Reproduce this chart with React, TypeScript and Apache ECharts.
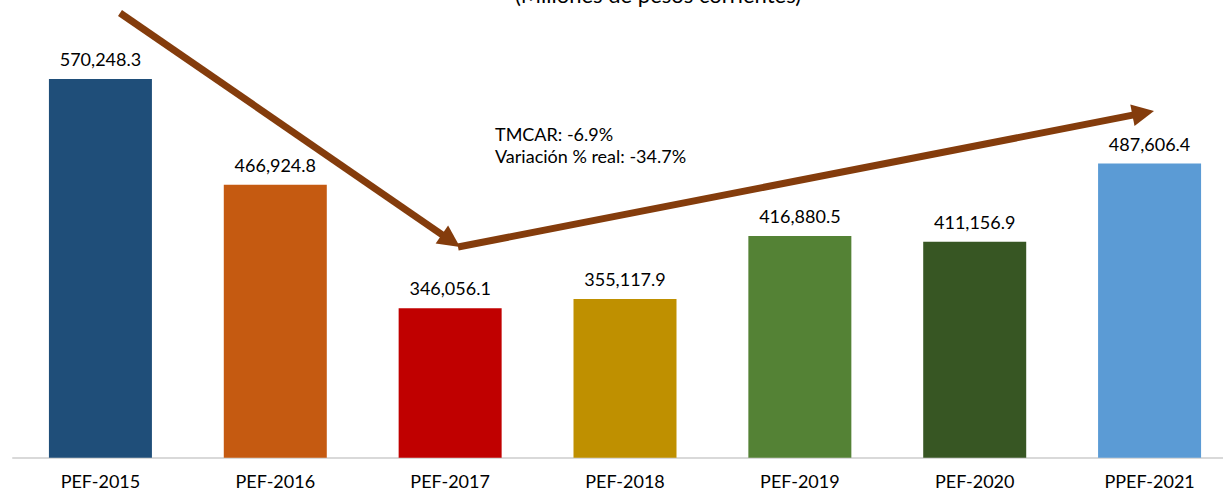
import React, { useEffect, useRef } from "react";
import * as echarts from "echarts";

const categories = ["PEF-2015", "PEF-2016", "PEF-2017", "PEF-2018", "PEF-2019", "PEF-2020", "PPEF-2021"];
const values = [570248.3, 466924.8, 346056.1, 355117.9, 416880.5, 411156.9, 487606.4];
const barColors = ["#1f4e79", "#c55a11", "#c00000", "#bf9000", "#548235", "#375623", "#5b9bd5"];
const titleText = "(Millones de pesos corrientes)";
const noteLines = ["TMCAR: -6.9%", "Variación % real: -34.7%"];

const FONT = "Lato, 'Liberation Sans', sans-serif";
const ARROW = "#843c0c";

function arrowHead(x1: number, y1: number, x2: number, y2: number, len: number, half: number) {
  const dx = x2 - x1;
  const dy = y2 - y1;
  const d = Math.sqrt(dx * dx + dy * dy);
  const ux = dx / d;
  const uy = dy / d;
  const bx = x2 - ux * len;
  const by = y2 - uy * len;
  return [
    [x2, y2],
    [bx - uy * half, by + ux * half],
    [bx + uy * half, by - ux * half],
  ];
}

export default function App() {
  const ref = useRef<HTMLDivElement>(null);
  useEffect(() => {
    if (!ref.current) return;
    const chart = echarts.init(ref.current, null, { renderer: "svg" });
    const a1 = { x1: 120, y1: 13, x2: 460, y2: 247 };
    const a2 = { x1: 458, y1: 247, x2: 1154, y2: 111 };
    const shaft = (a: any) => {
      const dx = a.x2 - a.x1, dy = a.y2 - a.y1;
      const d = Math.sqrt(dx * dx + dy * dy);
      return { x2: a.x2 - (dx / d) * 14, y2: a.y2 - (dy / d) * 14 };
    };
    const s1 = shaft(a1);
    const s2 = shaft(a2);
    chart.setOption({
      animation: false,
      grid: { left: 13, right: 0, top: 48.6, bottom: 33.3, containLabel: false },
      xAxis: {
        type: "category",
        data: categories,
        axisLine: { show: true, lineStyle: { color: "#d9d9d9", width: 2 } },
        axisTick: { show: false },
        axisLabel: { color: "#000", fontFamily: FONT, fontSize: 18, margin: 14 },
      },
      yAxis: {
        type: "value",
        min: 200000,
        max: 600000,
        show: false,
        splitLine: { show: false },
      },
      series: [
        {
          type: "bar",
          barWidth: 103,
          data: values.map((v, i) => ({ value: v, itemStyle: { color: barColors[i] } })),
          label: {
            show: true,
            position: "top",
            distance: 11,
            color: "#000",
            fontFamily: FONT,
            fontSize: 18,
            formatter: (p: any) =>
              Number(p.value).toLocaleString("en-US", { minimumFractionDigits: 1, maximumFractionDigits: 1 }),
          },
        },
      ],
      graphic: [
        {
          type: "text",
          x: 658,
          y: 5,
          style: {
            text: titleText,
            fontFamily: FONT,
            fontSize: 22,
            fill: "#000",
            textAlign: "center",
            textVerticalAlign: "bottom",
          },
        },
        {
          type: "text",
          x: 495,
          y: 123,
          style: {
            text: noteLines.join("\n"),
            fontFamily: FONT,
            fontSize: 18,
            lineHeight: 22,
            fill: "#000",
            textAlign: "left",
            textVerticalAlign: "top",
          },
        },
        {
          type: "line",
          shape: { x1: a1.x1, y1: a1.y1, x2: s1.x2, y2: s1.y2 },
          style: { stroke: ARROW, lineWidth: 7 },
        },
        {
          type: "polygon",
          shape: { points: arrowHead(a1.x1, a1.y1, a1.x2, a1.y2, 22, 11) },
          style: { fill: ARROW },
        },
        {
          type: "line",
          shape: { x1: a2.x1, y1: a2.y1, x2: s2.x2, y2: s2.y2 },
          style: { stroke: ARROW, lineWidth: 7 },
        },
        {
          type: "polygon",
          shape: { points: arrowHead(a2.x1, a2.y1, a2.x2, a2.y2, 22, 11) },
          style: { fill: ARROW },
        },
      ],
    });
    return () => chart.dispose();
  }, []);
  return (
    <div style={{ position: "absolute", left: 0, top: 0, width: 1223, height: 491, overflow: "hidden" }}>
      <div ref={ref} style={{ width: 1237, height: 491 }} />
    </div>
  );
}
